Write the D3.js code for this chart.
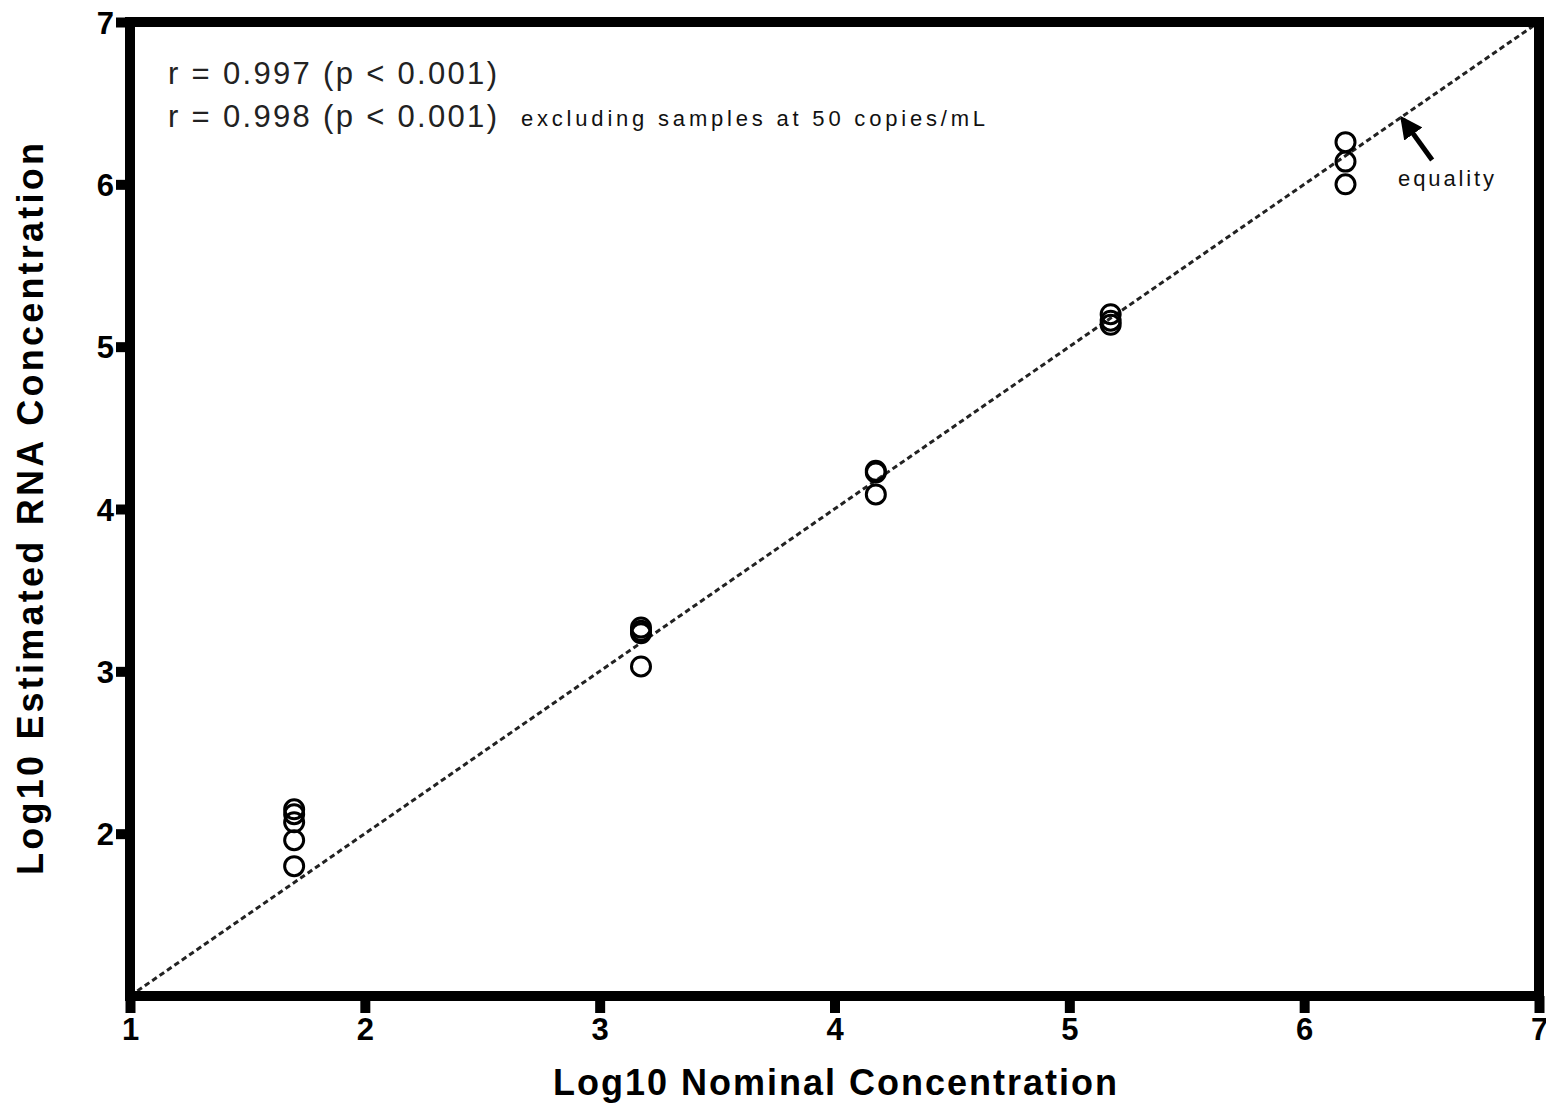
<!DOCTYPE html>
<html>
<head>
<meta charset="utf-8">
<style>
  body { margin: 0; background: #fff; }
  svg { display: block; }
  .tick text { font-family: "Liberation Sans", Arial, sans-serif; font-weight: bold; font-size: 31px; fill: #000; }
  .axis-label { font-family: "Liberation Sans", Arial, sans-serif; font-weight: bold; font-size: 36px; fill: #000; }
  .stat { font-family: "Liberation Sans", Arial, sans-serif; font-size: 31px; fill: #222; }
  .note { font-family: "Liberation Sans", Arial, sans-serif; font-size: 22px; fill: #111; }
</style>
</head>
<body>
<script src="https://d3js.org/d3.v7.min.js"></script>
<script>
// nominal log10 concentrations (50, 1500, 15000, 150000, 1500000 copies/mL)
var nominal = [1.699, 1.699, 1.699, 1.699, 1.699,
               3.176, 3.176, 3.176, 3.176,
               4.176, 4.176, 4.176,
               5.176, 5.176, 5.176,
               6.176, 6.176, 6.176];
var estimated = [2.15, 2.12, 2.07, 1.96, 1.80,
                 3.27, 3.25, 3.235, 3.03,
                 4.235, 4.225, 4.09,
                 5.20, 5.16, 5.135,
                 6.26, 6.14, 6.00];
var xTicks = [1, 2, 3, 4, 5, 6, 7];
var yTicks = [2, 3, 4, 5, 6, 7];
var statLines = ["r = 0.997  (p < 0.001)", "r = 0.998  (p < 0.001)"];
var statNote = "excluding samples at 50 copies/mL";

var W = 1546, H = 1104;
var margin = {top: 22, right: 7, bottom: 108, left: 130};
var width = W - margin.left - margin.right,
    height = H - margin.top - margin.bottom;

var svg = d3.select("body").append("svg")
    .attr("width", W).attr("height", H);

svg.append("defs").append("marker")
    .attr("id", "head")
    .attr("viewBox", "0 0 10 10")
    .attr("refX", 8).attr("refY", 5)
    .attr("markerWidth", 4.5).attr("markerHeight", 4.5)
    .attr("orient", "auto")
  .append("path")
    .attr("d", "M0,0L10,5L0,10z")
    .attr("fill", "#000");

var g = svg.append("g")
    .attr("transform", "translate(" + margin.left + "," + margin.top + ")");

var x = d3.scaleLinear().domain([1, 7]).range([0, width]);
var y = d3.scaleLinear().domain([1, 7]).range([height, 0]);

// equality line
g.append("line")
    .attr("x1", x(1)).attr("y1", y(1))
    .attr("x2", x(7)).attr("y2", y(7))
    .attr("stroke", "#222")
    .attr("stroke-width", 3)
    .attr("stroke-dasharray", "5.5,3.5");

// points
g.selectAll(".pt")
  .data(nominal)
  .enter().append("circle")
    .attr("class", "pt")
    .attr("cx", function(d) { return x(d); })
    .attr("cy", function(d, i) { return y(estimated[i]); })
    .attr("r", 9.5)
    .attr("fill", "none")
    .attr("stroke", "#000")
    .attr("stroke-width", 3);

// frame
g.append("rect")
    .attr("x", 0).attr("y", 0)
    .attr("width", width).attr("height", height)
    .attr("fill", "none")
    .attr("stroke", "#000")
    .attr("stroke-width", 10);

var xAxis = g.append("g")
    .attr("transform", "translate(0," + height + ")")
    .call(d3.axisBottom(x).tickValues(xTicks).tickFormat(d3.format("d")).tickSize(17).tickPadding(5));
var yAxis = g.append("g")
    .call(d3.axisLeft(y).tickValues(yTicks).tickFormat(d3.format("d")).tickSize(14).tickPadding(2));
[xAxis, yAxis].forEach(function(a) {
  a.select(".domain").remove();
  a.selectAll(".tick line").attr("stroke", "#000").attr("stroke-width", 10);
});
yAxis.selectAll(".tick text").attr("dy", "0.36em");

// axis titles
svg.append("text")
    .attr("class", "axis-label")
    .attr("x", 835).attr("y", 1095)
    .attr("text-anchor", "middle")
    .attr("textLength", 564)
    .text("Log10 Nominal  Concentration");
svg.append("text")
    .attr("class", "axis-label")
    .attr("transform", "translate(30,509) rotate(-90)")
    .attr("text-anchor", "middle")
    .attr("dy", "0.36em")
    .attr("textLength", 732)
    .text("Log10  Estimated RNA  Concentration");

// statistics
statLines.forEach(function(s, i) {
  g.append("text")
    .attr("class", "stat")
    .attr("x", 38).attr("y", 62 + i * 43)
    .attr("textLength", 329)
    .text(s);
});
g.append("text")
    .attr("class", "note")
    .attr("x", 391).attr("y", 104)
    .attr("textLength", 464)
    .text(statNote);

// equality annotation
g.append("line")
    .attr("x1", x(6.545)).attr("y1", y(6.15))
    .attr("x2", x(6.42)).attr("y2", y(6.40))
    .attr("stroke", "#000")
    .attr("stroke-width", 5)
    .attr("marker-end", "url(#head)");
g.append("text")
    .attr("class", "note")
    .attr("x", x(6.4)).attr("y", y(6.0) + 2)
    .attr("font-size", 20)
    .attr("textLength", 96)
    .text("equality");
</script>
</body>
</html>
